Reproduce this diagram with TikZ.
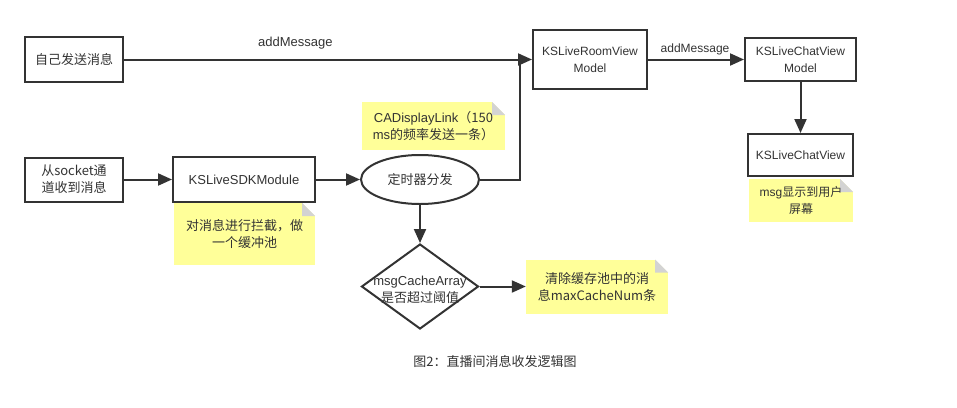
\documentclass[tikz,border=0pt]{standalone}
\usepackage{fontspec}
\setmainfont{Liberation Sans}
\newfontfamily\cjk{Noto Sans CJK SC}
\usetikzlibrary{shapes.geometric,arrows.meta}
\definecolor{ink}{HTML}{333333}
\definecolor{noteyellow}{HTML}{FFFF99}
\definecolor{foldgray}{HTML}{D3D3D3}
\tikzset{
  base/.style={font=\fontsize{13}{17}\selectfont, text=ink, align=center, inner sep=0pt},
  small/.style={font=\fontsize{12}{17}\selectfont},
  box/.style={base, draw=ink, line width=2pt, fill=white, rectangle},
  oval/.style={base, draw=ink, line width=2pt, fill=white, ellipse},
  dia/.style={base, draw=ink, line width=2pt, fill=white, diamond},
  note/.style={base, fill=noteyellow, rectangle,
    path picture={
      \fill[white] (path picture bounding box.north east) -- ++(-13pt,0pt) -- ++(13pt,-13pt) -- cycle;
      \fill[foldgray] (path picture bounding box.north east) ++(-13pt,0pt) -- ++(0pt,-13pt) -- ++(13pt,0pt) -- cycle;
    }},
  conn/.style={draw=ink, line width=2pt},
  arr/.style={conn, -{Triangle[length=14pt,width=12pt]}},
  lbl/.style={base}
}
\begin{document}
\begin{tikzpicture}[x=1pt,y=-1pt]
\useasboundingbox (0,0) rectangle (957,407);
\fill[white] (0,0) rectangle (957,407);

% notes
\node[note, minimum width=143pt, minimum height=48pt] (n1) at (433.5,126) {CADisplayLink\cjk{（}150\\ms\cjk{的频率发送一条）}};
\node[note, minimum width=141pt, minimum height=62pt] (n2) at (244.5,234) {\cjk{对消息进行拦截，做}\\\cjk{一个缓冲池}};
\node[note, minimum width=142pt, minimum height=54pt] (n3) at (597,286.5) {\cjk{清除缓存池中的消}\\\cjk{息}maxCacheNum\cjk{条}};
\node[note, small, minimum width=104pt, minimum height=43pt] (n4) at (801,200.5) {msg\cjk{显示到用户}\\\cjk{屏幕}};

% boxes
\node[box, minimum width=98pt, minimum height=45pt] (self) at (74,59.5) {\cjk{自己发送消息}};
\node[box, minimum width=98pt, minimum height=44pt] (sock) at (74,179.5) {\cjk{从}socket\cjk{通}\\\cjk{道收到消息}};
\node[box, minimum width=142pt, minimum height=45pt] (sdk) at (244,179.5) {KSLiveSDKModule};
\node[oval, minimum width=118pt, minimum height=49pt] (timer) at (420,179.5) {\cjk{定时器分发}};
\node[dia, minimum width=117pt, minimum height=85pt, label={[base, yshift=-3pt]center:msgCacheArray\\\cjk{是否超过阈值}}] (dec) at (420,286.5) {};
\node[box, small, minimum width=114pt, minimum height=59pt] (room) at (590,59.5) {KSLiveRoomView\\Model};
\node[box, small, minimum width=111pt, minimum height=43pt] (chatvm) at (800.5,59.5) {KSLiveChatView\\Model};
\node[box, small, minimum width=105pt, minimum height=42pt] (chatv) at (800.5,155) {KSLiveChatView};

% caption
\node[base] (cap) at (495,362) {\cjk{图}2\cjk{：直播间消息收发逻辑图}};

% connectors
\coordinate (j) at (520,59.5);
\draw[conn] (timer.east) -| (j);
\draw[arr] (self.east) -- node[lbl, above=9pt, pos=0.42] {addMessage} (room.west);
\draw[arr] (sock.east) -- (sdk.west);
\draw[arr] (sdk.east) -- (timer.west);
\draw[arr] (timer.south) -- (dec.north);
\draw[arr] (dec.east) -- (n3.west);
\draw[arr] (room.east) -- node[lbl, small, above=4pt, pos=0.49] {addMessage} (chatvm.west);
\draw[arr] (chatvm.south) -- (chatv.north);
\end{tikzpicture}
\end{document}
